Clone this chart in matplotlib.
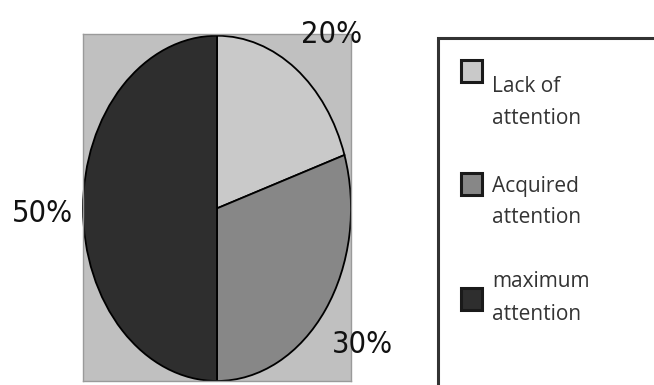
import matplotlib
matplotlib.use("Agg")
import matplotlib.pyplot as plt
from matplotlib.patches import Rectangle
from matplotlib import font_manager

categories = ["Lack of\nattention", "Acquired\nattention", "maximum\nattention"]
values = [20, 30, 50]
colors = ["#c9c9c9", "#878787", "#2e2e2e"]

W, H = 654, 385
fig = plt.figure(figsize=(W / 100, H / 100), dpi=100)
fig.patch.set_facecolor("white")


def fx(x):
    return x / W


def fy(y):
    return 1 - y / H


# pie axes (stretched into an ellipse)
ax = fig.add_axes([fx(83), fy(381), (351 - 83) / W, (381 - 34) / H])
wedges, _ = ax.pie(values, colors=colors, startangle=90, counterclock=False,
                   radius=1, wedgeprops=dict(edgecolor="black", linewidth=1.3))
ax.set_aspect("auto")
ax.set_xlim(-1.0, 1.0)
ax.set_ylim(-1.0, 1.01)
ax.set_frame_on(True)
ax.set_facecolor("#c0c0c0")
for s in ax.spines.values():
    s.set_color("#9a9a9a")
    s.set_linewidth(1)
ax.set_xticks([])
ax.set_yticks([])

# percentage labels - narrow font if there is one
names = {f.name for f in font_manager.fontManager.ttflist}
narrow = [n for n in ["Liberation Sans Narrow", "DejaVu Sans Condensed"] if n in names]
condensed = any("Condensed" in f.fname for f in font_manager.fontManager.ttflist
                if f.name == "DejaVu Sans")
if narrow:
    lab_kw = dict(family=narrow[0], fontsize=24)
elif condensed:
    lab_kw = dict(family="DejaVu Sans", fontstretch="condensed", fontsize=22)
else:
    lab_kw = dict(family="Liberation Sans", fontsize=21)

label_pos = [(332, 43), (362, 353), (42, 222)]
for v, (x, y) in zip(values, label_pos):
    fig.text(fx(x), fy(y), f"{v}%", ha="center", va="baseline",
             color="#111111", **lab_kw)

# legend box
fig.patches.append(Rectangle((fx(438), fy(392)), (665 - 438) / W, (392 - 38) / H,
                             transform=fig.transFigure, facecolor="white",
                             edgecolor="#333333", linewidth=2.2, zorder=0))

marker_y = [60, 173, 288]
text_base = [(92, 124), (192, 223), (287, 320)]
for cat, c, my, (b1, b2) in zip(categories, colors, marker_y, text_base):
    fig.patches.append(Rectangle((fx(461), fy(my + 22)), 21 / W, 22 / H,
                                 transform=fig.transFigure, facecolor=c,
                                 edgecolor="#1a1a1a", linewidth=2.2, zorder=2))
    l1, l2 = cat.split("\n")
    fig.text(fx(492), fy(b1), l1, ha="left", va="baseline", fontsize=15,
             family="Open Sans", color="#333333")
    fig.text(fx(492), fy(b2), l2, ha="left", va="baseline", fontsize=15,
             family="Open Sans", color="#333333")

fig.savefig("out.png", dpi=100)
